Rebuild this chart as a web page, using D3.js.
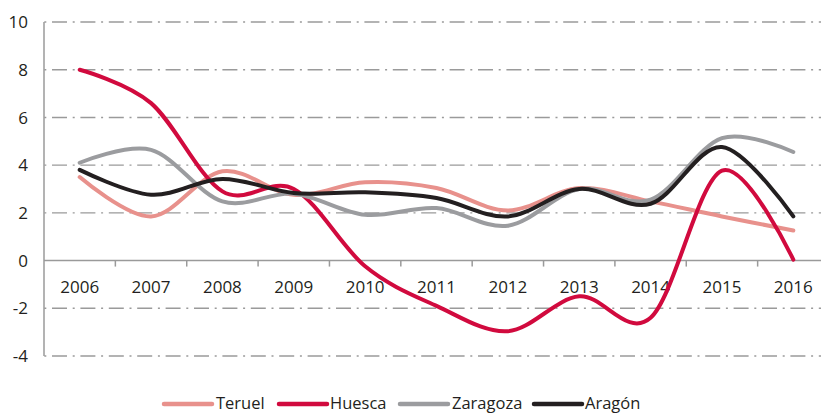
<!DOCTYPE html>
<html>
<head>
<meta charset="utf-8">
<script src="https://cdn.jsdelivr.net/npm/d3@7"></script>
<style>
  html, body { margin: 0; padding: 0; background: #fff; }
  svg { display: block; font-family: "Open Sans", "Noto Sans", sans-serif; }
</style>
</head>
<body>
<svg id="chart" width="821" height="414"></svg>
<script>
const years = ["2006","2007","2008","2009","2010","2011","2012","2013","2014","2015","2016"];
const teruel   = [3.5, 1.85, 3.74, 2.76, 3.28, 3.04, 2.1, 3.04, 2.48, 1.85, 1.26];
const huesca   = [8.0, 6.6, 2.9, 3.0, -0.24, -1.9, -2.96, -1.5, -2.4, 3.77, 0.04];
const zaragoza = [4.1, 4.64, 2.48, 2.8, 1.92, 2.2, 1.46, 3.0, 2.55, 5.13, 4.55];
const aragon   = [3.8, 2.76, 3.42, 2.83, 2.86, 2.62, 1.85, 3.0, 2.38, 4.76, 1.85];
const yTicks = [-4, -2, 0, 2, 4, 6, 8, 10];

const seriesNames = ["Teruel", "Huesca", "Zaragoza", "Aragón"];
const seriesValues = [teruel, huesca, zaragoza, aragon];
const seriesColors = ["#e8918c", "#d10a3e", "#9b9c9f", "#231f20"];

const svg = d3.select("#chart");
const pLeft = 44, pRight = 829, pTop = 22, pBottom = 356;

const x = d3.scaleBand().domain(years).range([pLeft, pRight]).padding(0);
const y = d3.scaleLinear().domain([-4, 10]).range([pBottom, pTop]);
const cx = d => x(d) + x.bandwidth() / 2;

// gridlines
svg.append("g").selectAll("line")
  .data(yTicks.filter(t => t !== 0))
  .join("line")
  .attr("x1", pLeft).attr("x2", pRight)
  .attr("y1", d => y(d)).attr("y2", d => y(d))
  .attr("stroke", "#9a9a9a")
  .attr("stroke-width", 1.4)
  .attr("stroke-dasharray", "15,5.7,2,5.7")
  .attr("stroke-dashoffset", 20.4);

// y axis line
svg.append("line")
  .attr("x1", pLeft).attr("x2", pLeft)
  .attr("y1", y(10)).attr("y2", y(-4))
  .attr("stroke", "#9a9a9a").attr("stroke-width", 1.5);

// x axis at 0
svg.append("line")
  .attr("x1", pLeft).attr("x2", pRight)
  .attr("y1", y(0)).attr("y2", y(0))
  .attr("stroke", "#9a9a9a").attr("stroke-width", 1.5);

// x ticks at band boundaries
svg.append("g").selectAll("line")
  .data(years.slice(1))
  .join("line")
  .attr("x1", d => x(d)).attr("x2", d => x(d))
  .attr("y1", y(0)).attr("y2", y(0) + 6)
  .attr("stroke", "#9a9a9a").attr("stroke-width", 1.5);

// x labels
svg.append("g").selectAll("text")
  .data(years)
  .join("text")
  .attr("x", d => cx(d))
  .attr("y", y(0) + 32)
  .attr("text-anchor", "middle")
  .attr("font-size", 17)
  .attr("fill", "#231f20")
  .text(d => d);

// y labels
svg.append("g").selectAll("text")
  .data(yTicks)
  .join("text")
  .attr("x", 28)
  .attr("y", d => y(d))
  .attr("dy", "0.36em")
  .attr("text-anchor", "end")
  .attr("font-size", 17)
  .attr("fill", "#231f20")
  .text(d => d < 0 ? "-" + Math.abs(d) : d);

// lines
const line = d3.line()
  .x((d, i) => cx(years[i]))
  .y(d => y(d))
  .curve(d3.curveCardinal.tension(0));

seriesValues.forEach((vals, i) => {
  svg.append("path")
    .datum(vals)
    .attr("d", line)
    .attr("fill", "none")
    .attr("stroke", seriesColors[i])
    .attr("stroke-width", 4)
    .attr("stroke-linecap", "round")
    .attr("stroke-linejoin", "round");
});

// legend
const legendItems = [
  { x: 164, tx: 216 },
  { x: 279, tx: 330 },
  { x: 400, tx: 452 },
  { x: 534, tx: 585 }
];
const lg = svg.append("g");
seriesNames.forEach((name, i) => {
  const it = legendItems[i];
  lg.append("line")
    .attr("x1", it.x).attr("x2", it.x + 48)
    .attr("y1", 404).attr("y2", 404)
    .attr("stroke", seriesColors[i])
    .attr("stroke-width", 4.5)
    .attr("stroke-linecap", "round");
  lg.append("text")
    .attr("x", it.tx).attr("y", 409)
    .attr("font-size", 16.5)
    .attr("fill", "#231f20")
    .text(name);
});
</script>
</body>
</html>
